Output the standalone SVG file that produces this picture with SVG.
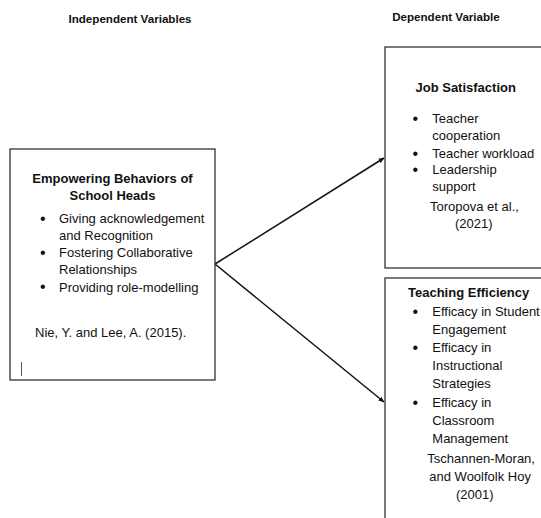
<svg xmlns="http://www.w3.org/2000/svg" width="541" height="518" viewBox="0 0 541 518">
  <defs>
    <style>
      text { font-family: "Liberation Sans", Arial, sans-serif; fill: #111; }
      .hdr { font-size: 11.6px; font-weight: bold; }
      .ttl { font-size: 13px; font-weight: bold; }
      .txt { font-size: 13px; }
      .bul { font-size: 16px; }
      .box { fill: #fff; stroke: #333; stroke-width: 1.3; }
      .conn { stroke: #111; stroke-width: 1.5; fill: none; marker-end: url(#arr); }
    </style>
    <marker id="arr" viewBox="0 0 10 10" refX="9" refY="5" markerWidth="6" markerHeight="6" orient="auto" markerUnits="userSpaceOnUse">
      <path d="M0,1 L10,5 L0,9 Z" fill="#111"/>
    </marker>
  </defs>
  <rect width="541" height="518" fill="#fff"/>

  <text class="hdr" x="130" y="23" text-anchor="middle">Independent Variables</text>
  <text class="hdr" x="446" y="21" text-anchor="middle">Dependent Variable</text>

  <g id="connectors">
    <line class="conn" x1="215" y1="264" x2="384" y2="158"/>
    <line class="conn" x1="215" y1="264" x2="384" y2="402"/>
  </g>

  <g id="empowering">
    <rect class="box" x="10" y="149" width="205" height="231"/>
    <text class="ttl" x="112.5" y="182.7" text-anchor="middle">Empowering Behaviors of</text>
    <text class="ttl" x="112.5" y="200" text-anchor="middle">School Heads</text>
    <text class="bul" x="40" y="223.5">•</text>
    <text class="txt" x="59" y="222.7">Giving acknowledgement</text>
    <text class="txt" x="59" y="239.5">and Recognition</text>
    <text class="bul" x="40" y="257.8">•</text>
    <text class="txt" x="59" y="257">Fostering Collaborative</text>
    <text class="txt" x="59" y="273.5">Relationships</text>
    <text class="bul" x="40" y="292.3">•</text>
    <text class="txt" x="59" y="291.5">Providing role-modelling</text>
    <text class="txt" x="35" y="336.7">Nie, Y. and Lee, A. (2015).</text>
    <line x1="21.5" y1="362" x2="21.5" y2="376" stroke="#555" stroke-width="1"/>
  </g>

  <g id="job-satisfaction">
    <rect class="box" x="385" y="47" width="170" height="221"/>
    <text class="ttl" x="415.5" y="92.3">Job Satisfaction</text>
    <text class="bul" x="412.5" y="124.1">•</text>
    <text class="txt" x="432.3" y="123.3">Teacher</text>
    <text class="txt" x="432.3" y="140">cooperation</text>
    <text class="bul" x="412.5" y="158.5">•</text>
    <text class="txt" x="432.3" y="157.7">Teacher workload</text>
    <text class="bul" x="412.5" y="175.1">•</text>
    <text class="txt" x="432.3" y="174.3">Leadership</text>
    <text class="txt" x="432.3" y="190.5">support</text>
    <text class="txt" x="430" y="210.5">Toropova et al.,</text>
    <text class="txt" x="455" y="228.3">(2021)</text>
  </g>

  <g id="teaching-efficiency">
    <rect class="box" x="385" y="278" width="170" height="260"/>
    <text class="ttl" x="408" y="296.7">Teaching Efficiency</text>
    <text class="bul" x="412.5" y="316.5">•</text>
    <text class="txt" x="432.3" y="315.7">Efficacy in Student</text>
    <text class="txt" x="432.3" y="333.5">Engagement</text>
    <text class="bul" x="412.5" y="352.8">•</text>
    <text class="txt" x="432.3" y="352">Efficacy in</text>
    <text class="txt" x="432.3" y="370">Instructional</text>
    <text class="txt" x="432.3" y="388.3">Strategies</text>
    <text class="bul" x="412.5" y="407.5">•</text>
    <text class="txt" x="432.3" y="406.7">Efficacy in</text>
    <text class="txt" x="432.3" y="425">Classroom</text>
    <text class="txt" x="432.3" y="442.7">Management</text>
    <text class="txt" x="427.3" y="462.7">Tschannen-Moran,</text>
    <text class="txt" x="429.3" y="481">and Woolfolk Hoy</text>
    <text class="txt" x="456" y="499">(2001)</text>
  </g>
</svg>
